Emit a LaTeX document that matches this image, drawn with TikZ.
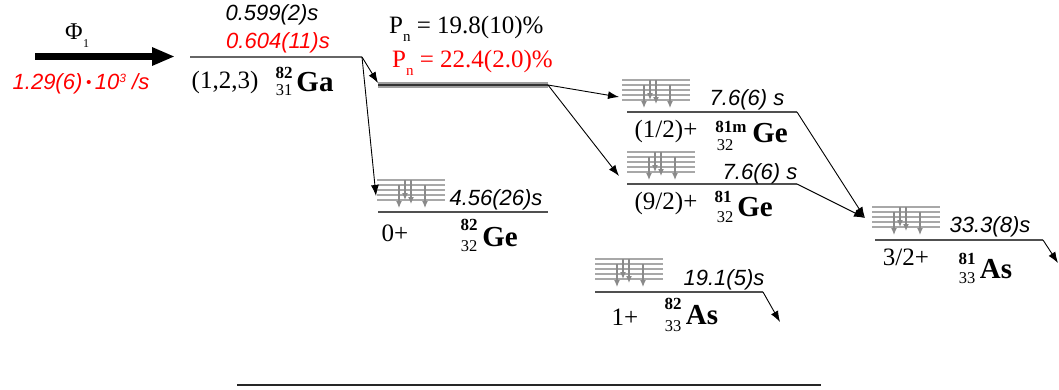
\documentclass[tikz,border=0pt]{standalone}
\usepackage{fontspec}
\setmainfont{Liberation Serif}
\newfontfamily\sansf{Liberation Sans}
\usetikzlibrary{arrows.meta}
\definecolor{lvl}{HTML}{505050}
\definecolor{bandgray}{HTML}{A8A8A8}
\definecolor{garrowc}{HTML}{8A8A8A}
\newcommand{\gband}[2]{%
  \foreach \k in {0,1,2,3,4} \draw[bandl] ({#1},{#2+5*\k}) -- ({#1+68},{#2+5*\k});
  \draw[garrow] ({#1+22},{#2+5}) -- ({#1+22},{#2+28});
  \draw[garrow] ({#1+28},{#2}) -- ({#1+28},{#2+20});
  \draw[garrow] ({#1+34},{#2}) -- ({#1+34},{#2+24});
  \draw[garrow] ({#1+48},{#2+5}) -- ({#1+48},{#2+28});
}
\begin{document}
\begin{tikzpicture}[x=1pt,y=-1pt,
  level/.style={draw=lvl, line width=1.6pt},
  conn/.style={draw=black, line width=0.9pt, -{Latex[length=11pt,width=8pt]}},
  bandl/.style={draw=bandgray, line width=1.2pt},
  garrow/.style={draw=garrowc, line width=1.2pt, -{Latex[length=7pt,width=6pt]}},
  hl/.style={font=\sansf\itshape\fontsize{22}{24}\selectfont, inner sep=0pt},
  txt/.style={font=\fontsize{25}{28}\selectfont, inner sep=0pt},
  msn/.style={font=\bfseries\fontsize{17}{18}\selectfont, inner sep=0pt},
  zn/.style={font=\fontsize{16.5}{18}\selectfont, inner sep=0pt},
  sym/.style={font=\bfseries\fontsize{29}{30}\selectfont, inner sep=0pt}]
\useasboundingbox (0,0) rectangle (1059,389);

% incoming beam
\coordinate (phiS) at (35,56.5);
\coordinate (phiE) at (175,56.5);
\draw[line width=7pt, -{Triangle[length=23pt,width=17pt]}] (phiS) -- (phiE);
\node[txt, font=\fontsize{24}{26}\selectfont] (phi) at (74,32) {Φ};
\node[inner sep=0pt, font=\fontsize{12}{12}\selectfont] (phisub) at (86,44) {1};
\node[hl, red] (rate) at (81,84) {1.29(6)\,{\fontsize{15}{15}\selectfont\raisebox{2pt}{•}}\,10\raisebox{7pt}{\fontsize{12}{12}\selectfont 3} /s};

% 82Ga
\coordinate (gaL) at (190,57);
\coordinate (gaR) at (362,57);
\draw[level, draw=gray!80!black] (gaL) -- (gaR);
\node[hl] (ga1) at (272,15) {0.599(2)s};
\node[hl, red] (ga2) at (278,43) {0.604(11)s};
\node[txt] (gaj) at (225,82) {(1,2,3)};
\node[msn] (gaA) at (284,73) {82};
\node[zn] (gaZ) at (284,90) {31};
\node[sym] (gaS) at (315,82) {Ga};

% Pn bar
\coordinate (pnL) at (378,85);
\coordinate (pnR) at (548,85);
\draw[line width=6pt, draw=gray!75] (pnL) -- (pnR);
\draw[line width=2pt, draw=gray!40!black] (pnL) -- (pnR);
\node[txt, anchor=base west] (pn1) at (389,33) {P\raisebox{-8pt}{\fontsize{15}{15}\selectfont n} = 19.8(10)\%};
\node[txt, red, anchor=base west] (pn2) at (392,67) {P\raisebox{-8pt}{\fontsize{15}{15}\selectfont n} = 22.4(2.0)\%};

% 82Ge
\gband{377}{180}
\coordinate (ge82L) at (378,212);
\coordinate (ge82R) at (548,212);
\draw[level] (ge82L) -- (ge82R);
\node[hl] (ge82t) at (496,200) {4.56(26)s};
\node[txt] (ge82j) at (395,233) {0+};
\node[msn] (ge82A) at (469,225) {82};
\node[zn] (ge82Z) at (469,246) {32};
\node[sym] (ge82S) at (500,237) {Ge};

% 81mGe
\gband{622}{80}
\coordinate (ge81mL) at (627,112);
\coordinate (ge81mR) at (797,112);
\draw[level] (ge81mL) -- (ge81mR);
\node[hl] (ge81mt) at (747,100) {7.6(6) s};
\node[txt] (ge81mj) at (666,131) {(1/2)+};
\node[msn] (ge81mA) at (731,127) {81m};
\node[zn] (ge81mZ) at (725,145) {32};
\node[sym] (ge81mS) at (770,133) {Ge};

% 81Ge
\gband{627}{152}
\coordinate (ge81L) at (627,184);
\coordinate (ge81R) at (797,184);
\draw[level] (ge81L) -- (ge81R);
\node[hl] (ge81t) at (760,174) {7.6(6) s};
\node[txt] (ge81j) at (666,203) {(9/2)+};
\node[msn] (ge81A) at (723,197) {81};
\node[zn] (ge81Z) at (725,217) {32};
\node[sym] (ge81S) at (755,207) {Ge};

% 81As
\gband{872}{207}
\coordinate (as81L) at (875,240);
\coordinate (as81R) at (1043,240);
\draw[level] (as81L) -- (as81R);
\node[hl] (as81t) at (990,227) {33.3(8)s};
\node[txt] (as81j) at (906,257) {3/2+};
\node[msn] (as81A) at (967,259) {81};
\node[zn] (as81Z) at (967,278) {33};
\node[sym] (as81S) at (996,269) {As};

% 82As
\gband{595}{259}
\coordinate (as82L) at (595,292);
\coordinate (as82R) at (763,292);
\draw[level] (as82L) -- (as82R);
\node[hl] (as82t) at (724,280) {19.1(5)s};
\node[txt] (as82j) at (625,317) {1+};
\node[msn] (as82A) at (673,304) {82};
\node[zn] (as82Z) at (673,326) {33};
\node[sym] (as82S) at (702,315) {As};

% connectors
\coordinate (pnTip) at (378,83);
\coordinate (ge82Tip) at (376,196);
\coordinate (ge81mTip) at (619,97);
\coordinate (ge81Tip) at (619,176);
\coordinate (as81Tip) at (865,218);
\coordinate (as81Out) at (1058,263);
\coordinate (as82Out) at (780,322);
\draw[conn] (gaR) -- (pnTip);
\draw[conn] (gaR) -- (ge82Tip);
\draw[conn] (pnR) -- (ge81mTip);
\draw[conn] (pnR) -- (ge81Tip);
\draw[conn] (ge81mR) -- (as81Tip);
\draw[conn] (ge81R) -- (as81Tip);
\draw[conn] (as81R) -- (as81Out);
\draw[conn] (as82R) -- (as82Out);

% bottom line
\coordinate (bl) at (237,385);
\coordinate (br) at (821,385);
\draw[draw=gray!30!black, line width=2pt] (bl) -- (br);
\end{tikzpicture}
\end{document}
